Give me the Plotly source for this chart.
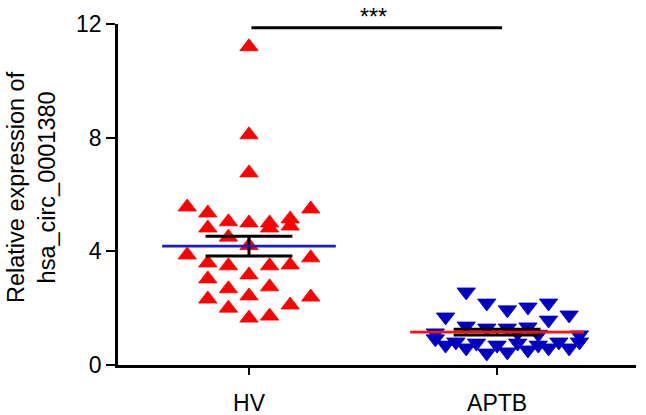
import numpy as np
import plotly.graph_objects as go

categories = ["HV", "APTB"]

hv_values = [11.2, 8.1, 6.76, 5.56, 5.49, 5.35, 5.04, 5.0, 5.0, 5.14, 4.82, 4.5, 4.82, 4.89,
             4.2, 3.87, 3.77, 3.59, 3.49, 3.49, 3.52, 3.03, 3.17, 2.68, 2.75, 2.32, 2.43, 2.39,
             2.0, 2.11, 1.65, 1.72]
hv_jitter = [0, 0, 0, -3, 3, -2, -1, 0, 1, 2, -2, -1, 1, 2,
             0, -3, 3, -2, -1, 1, 2, -2, 0, -1, 1, -2, 0, 3,
             -1, 2, 0, 1]

aptb_values = [2.57, 2.18, 1.69, 1.94, 2.04, 2.18, 1.76, 1.58, 1.37, 1.30, 1.30, 1.34, 1.13, 1.06,
               0.92, 0.70, 0.81, 0.60, 0.77, 0.42, 0.70, 0.46, 0.77, 0.53, 0.70, 0.60, 0.81, 0.60,
               0.81, 1.12, 1.08]
aptb_jitter = [-3, -1, -5, 1, 3, 5, 7, 5, -3, -1, 1, 3, -6, 8,
               -6, -5, -4, -3, -2, -1, 0, 1, 2, 3, 4, 5, 6, 7,
               8, 2, 4]

y_ticks = [0, 4, 8, 12]
significance = "***"

HV_STEP = 0.083
APTB_STEP = 0.0415
FONT = "Arial, Liberation Sans, Helvetica, sans-serif"

fig = go.Figure()

hv_x = [0 + j * HV_STEP for j in hv_jitter]
aptb_x = [1 + j * APTB_STEP for j in aptb_jitter]

fig.add_trace(go.Scatter(x=hv_x, y=hv_values, mode="markers",
                         marker=dict(symbol="triangle-up", size=16, color="#ff0000",
                                     line=dict(width=0.8, color="#ff0000")),
                         showlegend=False))
fig.add_trace(go.Scatter(x=aptb_x, y=aptb_values, mode="markers",
                         marker=dict(symbol="triangle-down", size=16, color="#0000c0",
                                     line=dict(width=0.8, color="#0000c0")),
                         showlegend=False))

def mean_sem(vals):
    a = np.array(vals)
    return a.mean(), a.std(ddof=1) / np.sqrt(len(a))

groups = [(0, hv_values, "#1c1cc8"), (1, aptb_values, "#ff1010")]
for cx, vals, mcol in groups:
    m, s = mean_sem(vals)
    fig.add_trace(go.Scatter(x=[cx - 0.175, cx + 0.175, None, cx - 0.175, cx + 0.175, None, cx, cx],
                             y=[m + s, m + s, None, m - s, m - s, None, m - s, m + s],
                             mode="lines", line=dict(color="black", width=3),
                             showlegend=False, hoverinfo="skip"))
    fig.add_trace(go.Scatter(x=[cx - 0.35, cx + 0.35], y=[m, m], mode="lines",
                             line=dict(color=mcol, width=2.8), showlegend=False,
                             hoverinfo="skip"))

fig.add_shape(type="line", xref="x", yref="y", x0=0.01, x1=1.02, y0=11.87, y1=11.87,
              line=dict(color="black", width=3))
fig.add_annotation(x=0.5, y=11.87, xref="x", yref="y", text=significance, showarrow=False,
                   yshift=11, font=dict(size=23, color="black", family=FONT))

fig.add_annotation(x=0, y=0.522, xref="paper", yref="paper",
                   text="Relative expression of<br>hsa_circ_0001380",
                   showarrow=False, textangle=-90, xanchor="center", yanchor="middle",
                   xshift=-86,
                   font=dict(size=23.5, color="black", family=FONT))

fig.update_layout(
    width=646, height=415,
    margin=dict(l=118, r=10, t=24, b=50),
    plot_bgcolor="white", paper_bgcolor="white",
    font=dict(family=FONT, size=22, color="black"),
    xaxis=dict(range=[-0.528, 1.56], tickvals=[0, 1], ticktext=categories,
               showline=True, linecolor="black", linewidth=2.5, ticks="outside",
               ticklen=7, tickwidth=2, tickcolor="black", showgrid=False, zeroline=False,
               ticklabelstandoff=9, tickfont=dict(size=23), automargin=False),
    yaxis=dict(range=[0, 12], tickvals=y_ticks, ticktext=[str(t) for t in y_ticks],
               showline=True, linecolor="black", linewidth=2.5, ticks="outside",
               ticklen=9, tickwidth=2, tickcolor="black", showgrid=False, zeroline=False,
               tickfont=dict(size=23), automargin=False),
)

fig.write_html("out.html", config={"displayModeBar": False},
               post_script="document.body.style.margin='0';")
